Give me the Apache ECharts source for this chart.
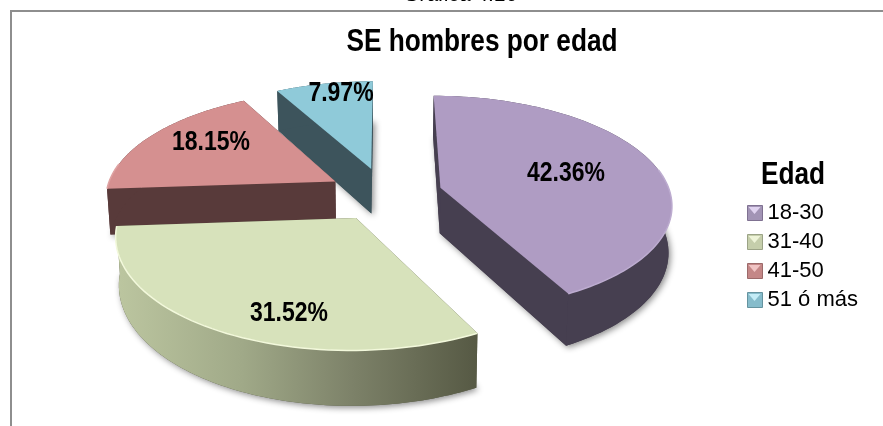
<!DOCTYPE html>
<html><head><meta charset="utf-8">
<style>html,body{margin:0;padding:0;background:#fff}#c{width:883px;height:426px}</style>
<script src="https://cdn.jsdelivr.net/npm/echarts@6/dist/echarts.min.js"></script>
</head><body><div id="c"></div>
<script>
var categories = ['18-30', '31-40', '41-50', '51 ó más'];
var values = [42.36, 31.52, 18.15, 7.97];
var chartTitle = 'SE hombres por edad';
var legendTitle = 'Edad';
var caption = 'Gráfica 4.10';

// Perspective projection of the exploded disc
var CX = 385, CY = 194, A = 230, B = 106.5, K = 0.14, DEPTH = 46, EXPLODE = 0.25, CONVERGE = 0.012;
var FONT = '"Liberation Sans",Arial,sans-serif';
var topColors = ['#af9cc3', '#d7e2bb', '#d59090', '#8fcad9'];
var rimColors = ['#bdacd0', '#f3f9dc', '#dfa3a3', '#9fd6e4'];
var wallColors = [
  '#463f50',
  {type:'linear',x:0,y:0,x2:1,y2:0,colorStops:[
    {offset:0,color:'#bcc6a0'},{offset:0.35,color:'#a0a988'},{offset:0.65,color:'#7d8269'},{offset:1,color:'#565944'}]},
  '#583a3a', '#3d545c'];
var labelPos = [[566,173],[289,313],[211,142],[341,93]];
var drawOrder = [3, 2, 0, 1];

var total = values.reduce(function (a, b) { return a + b; }, 0);
var spans = [], acc = 0;
values.forEach(function (v) { var e = acc + v / total * 360; spans.push([acc, e]); acc = e; });

function proj(i, deg, r) {
  var t = deg * Math.PI / 180, mid = (spans[i][0] + spans[i][1]) / 2 * Math.PI / 180;
  var u = Math.sin(t) * r + EXPLODE * Math.sin(mid);
  var v = -Math.cos(t) * r - EXPLODE * Math.cos(mid);
  var w = 1 - K * v;
  var x = CX + A * u / w, y = CY + B * v / w;
  return {x:x, y:y, bx:x - (x - CX) * CONVERGE, by:y + DEPTH / w};
}
function arcPts(i, a, b, n) {
  var out = [];
  for (var k = 0; k <= n; k++) out.push(proj(i, a + (b - a) * k / n, 1));
  return out;
}
function poly(points, style, z2) {
  return {type:'polygon', shape:{points:points}, style:style, z2:z2, silent:true};
}
function renderSlice(i) {
  return function () {
    var sp = spans[i], arc = arcPts(i, sp[0], sp[1], 90), c = proj(i, 0, 0), kids = [];
    var flatWall = i === 1 ? '#565944' : wallColors[i];
    kids.push(poly([[c.bx,c.by]].concat(arc.map(function (p) { return [p.bx,p.by]; })),
      {fill:flatWall, shadowBlur:6, shadowColor:'rgba(0,0,0,0.45)', shadowOffsetX:2, shadowOffsetY:2}, 0));
    [sp[0], sp[1]].forEach(function (deg) {
      var e = proj(i, deg, 1);
      kids.push(poly([[c.x,c.y],[e.x,e.y],[e.bx,e.by],[c.bx,c.by]], {fill:flatWall}, 1));
    });
    var wall = arc.map(function (p) { return [p.x, p.y]; });
    arc.slice().reverse().forEach(function (p) { wall.push([p.bx, p.by]); });
    kids.push(poly(wall, {fill:wallColors[i]}, 2));
    kids.push(poly([[c.x, c.y]].concat(arc.map(function (p) { return [p.x, p.y]; })), {fill:topColors[i]}, 3));
    var a0 = Math.max(sp[0], 80), a1 = Math.min(sp[1], 280);
    if (a1 > a0) {
      kids.push({type:'polyline', shape:{points:arcPts(i, a0, a1, 60).map(function (p) { return [p.x, p.y]; })},
        style:{stroke:rimColors[i], lineWidth:1.5, fill:null}, z2:4, silent:true});
    }
    kids.push({type:'text', x:labelPos[i][0], y:labelPos[i][1], scaleX:0.82, z2:5, silent:true,
      style:{text:values[i].toFixed(2)+'%', fill:'#000', align:'center', verticalAlign:'middle',
             font:'bold 28px '+FONT}});
    return {type:'group', children:kids};
  };
}
var series = drawOrder.map(function (i, idx) {
  return {type:'custom', name:categories[i], coordinateSystem:'none', z:2+idx,
    data:[values[i]], renderItem:renderSlice(i), itemStyle:{color:topColors[i]}, silent:true};
});
var legendSwatch = ['#a294b5', '#c5ceab', '#c48787', '#86bccb'];
var swatchBorder = ['#7f7191', '#9ba386', '#9c6a6a', '#65939f'];
var swatchLight = ['#e0d3f0', '#eef4d8', '#f0c4c4', '#c4ecf6'];
function txt(text, x, y, size, weight, style, sx) {
  return {type:'text', x:x, y:y, scaleX:sx, silent:true, z:20,
    style:{text:text, fill:'#000', align:'center', verticalAlign:'middle',
           font:style+' '+weight+' '+size+'px '+FONT}};
}
var graphics = [
  {type:'polyline', shape:{points:[[11,426],[11,11],[883,11]]}, style:{stroke:'#8e8e8e', lineWidth:2, fill:null}, silent:true},
  txt(chartTitle, 482, 42, 32, 'bold', 'normal', 0.82),
  txt(legendTitle, 793, 175, 32, 'bold', 'normal', 0.82),
  txt(caption, 461, -5, 21, 'normal', 'italic', 1)
];
// bevel highlight on the legend keys
categories.forEach(function (c, i) {
  var y0 = 207 + i * 29;
  graphics.push({type:'polygon', z:30, silent:true,
    shape:{points:[[748.5,y0],[760.5,y0],[754.5,y0+7]]}, style:{fill:swatchLight[i]}});
});
var chart = echarts.init(document.getElementById('c'), null, {renderer:'canvas'});
chart.setOption({
  animation:false,
  backgroundColor:'#fff',
  legend:{
    orient:'vertical', left:747, top:202, padding:0, itemWidth:15, itemHeight:15, itemGap:7, selectedMode:false, icon:'rect',
    data:categories.map(function (c, i) { return {name:c, itemStyle:{color:legendSwatch[i], borderColor:swatchBorder[i], borderWidth:1}}; }),
    textStyle:{fontFamily:FONT, fontSize:22, color:'#000', padding:0}
  },
  graphic:graphics,
  series:series
});
</script></body></html>
